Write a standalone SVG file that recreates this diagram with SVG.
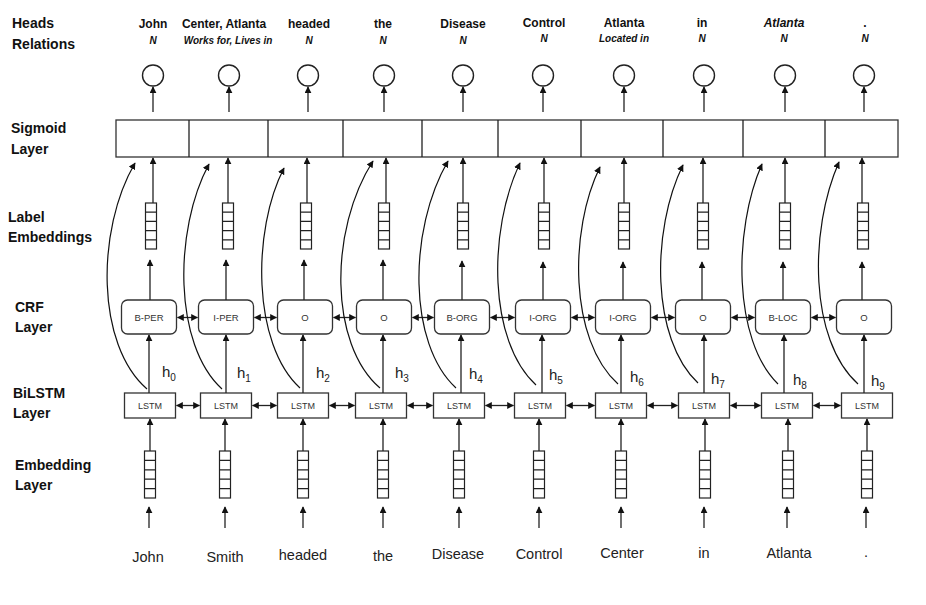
<svg xmlns="http://www.w3.org/2000/svg" width="926" height="605" viewBox="0 0 926 605">
<style>
text{font-family:"Liberation Sans",Arial,sans-serif;fill:#111}
.lab{font-size:14px;font-weight:bold}
.hd{font-size:12px;font-weight:bold;text-anchor:middle}
.rel{font-size:10px;font-weight:bold;font-style:italic;text-anchor:middle}
.wd{font-size:14.5px;text-anchor:middle;fill:#222}
.bx{font-size:9.5px;text-anchor:middle;fill:#333}
.ls{font-size:9px;text-anchor:middle;fill:#333}
.h{font-size:15px;fill:#222}
.h tspan{font-size:10px}
.box{fill:#fff;stroke:#333;stroke-width:1.3}
.vec{fill:#fff;stroke:#222;stroke-width:1.2}
.ln{fill:none;stroke:#222;stroke-width:1.3}
.ar{fill:none;stroke:#222;stroke-width:1.3;marker-end:url(#ah)}
.da{fill:none;stroke:#222;stroke-width:1.3;marker-end:url(#ah);marker-start:url(#ah)}
.cv{fill:none;stroke:#111;stroke-width:1.2;marker-end:url(#ah)}
</style>
<defs>
<marker id="ah" viewBox="0 0 10 10" refX="9" refY="5" markerWidth="7" markerHeight="7" markerUnits="userSpaceOnUse" orient="auto-start-reverse"><path d="M0,0 L10,5 L0,10 z" fill="#111"/></marker>
</defs>
<rect width="926" height="605" fill="#fff"/>

<g id="layer-labels">
<text class="lab" x="12" y="28">Heads</text>
<text class="lab" x="12" y="49">Relations</text>
<text class="lab" x="11" y="133">Sigmoid</text>
<text class="lab" x="11" y="154">Layer</text>
<text class="lab" x="8" y="222">Label</text>
<text class="lab" x="8" y="242">Embeddings</text>
<text class="lab" x="15" y="312">CRF</text>
<text class="lab" x="15" y="332">Layer</text>
<text class="lab" x="13" y="398">BiLSTM</text>
<text class="lab" x="13" y="418">Layer</text>
<text class="lab" x="15" y="470">Embedding</text>
<text class="lab" x="15" y="490">Layer</text>
</g>

<g id="heads">
<text class="hd" x="153" y="28">John</text><text class="rel" x="153" y="44">N</text>
<text class="hd" x="224" y="28">Center, Atlanta</text><text class="rel" x="228" y="44">Works for, Lives in</text>
<text class="hd" x="309" y="28">headed</text><text class="rel" x="309" y="44">N</text>
<text class="hd" x="383" y="28">the</text><text class="rel" x="383" y="44">N</text>
<text class="hd" x="463" y="28">Disease</text><text class="rel" x="463" y="44">N</text>
<text class="hd" x="544" y="27">Control</text><text class="rel" x="544" y="42">N</text>
<text class="hd" x="624" y="27">Atlanta</text><text class="rel" x="624" y="42">Located in</text>
<text class="hd" x="702" y="27">in</text><text class="rel" x="702" y="42">N</text>
<text class="hd" x="784" y="27" font-style="italic">Atlanta</text><text class="rel" x="784" y="42">N</text>
<text class="hd" x="865" y="27">.</text><text class="rel" x="865" y="42">N</text>
</g>

<g id="outputs" fill="#fff" stroke="#222" stroke-width="1.4">
<circle cx="153" cy="75.5" r="10.5"/>
<circle cx="229" cy="75.5" r="10.5"/>
<circle cx="308" cy="75.5" r="10.5"/>
<circle cx="384" cy="75.5" r="10.5"/>
<circle cx="463" cy="75.5" r="10.5"/>
<circle cx="543" cy="75.5" r="10.5"/>
<circle cx="624" cy="75.5" r="10.5"/>
<circle cx="704" cy="75.5" r="10.5"/>
<circle cx="785" cy="75.5" r="10.5"/>
<circle cx="864" cy="75.5" r="10.5"/>
</g>

<g id="sigmoid-layer">
<rect class="box" x="116" y="120" width="782" height="37"/>
<path class="ln" d="M189,120V157M268,120V157M343,120V157M422,120V157M498,120V157M581,120V157M663,120V157M743,120V157M825,120V157"/>
</g>

<g id="label-embeddings">
<g id="le1"><rect class="vec" x="145.5" y="203" width="11" height="46"/><path class="ln" d="M145.5,212.2h11M145.5,221.4h11M145.5,230.6h11M145.5,239.8h11"/></g>
<g id="le2"><rect class="vec" x="222.5" y="203" width="11" height="46"/><path class="ln" d="M222.5,212.2h11M222.5,221.4h11M222.5,230.6h11M222.5,239.8h11"/></g>
<g id="le3"><rect class="vec" x="300.5" y="203" width="11" height="46"/><path class="ln" d="M300.5,212.2h11M300.5,221.4h11M300.5,230.6h11M300.5,239.8h11"/></g>
<g id="le4"><rect class="vec" x="378.5" y="203" width="11" height="46"/><path class="ln" d="M378.5,212.2h11M378.5,221.4h11M378.5,230.6h11M378.5,239.8h11"/></g>
<g id="le5"><rect class="vec" x="457.5" y="203" width="11" height="46"/><path class="ln" d="M457.5,212.2h11M457.5,221.4h11M457.5,230.6h11M457.5,239.8h11"/></g>
<g id="le6"><rect class="vec" x="538.5" y="203" width="11" height="46"/><path class="ln" d="M538.5,212.2h11M538.5,221.4h11M538.5,230.6h11M538.5,239.8h11"/></g>
<g id="le7"><rect class="vec" x="618.5" y="203" width="11" height="46"/><path class="ln" d="M618.5,212.2h11M618.5,221.4h11M618.5,230.6h11M618.5,239.8h11"/></g>
<g id="le8"><rect class="vec" x="697.5" y="203" width="11" height="46"/><path class="ln" d="M697.5,212.2h11M697.5,221.4h11M697.5,230.6h11M697.5,239.8h11"/></g>
<g id="le9"><rect class="vec" x="779.5" y="203" width="11" height="46"/><path class="ln" d="M779.5,212.2h11M779.5,221.4h11M779.5,230.6h11M779.5,239.8h11"/></g>
<g id="le10"><rect class="vec" x="857.5" y="203" width="11" height="46"/><path class="ln" d="M857.5,212.2h11M857.5,221.4h11M857.5,230.6h11M857.5,239.8h11"/></g>
</g>

<g id="crf-layer">
<g id="crf1"><rect class="box" x="121.5" y="300" width="55" height="34" rx="6"/><text class="bx" x="149" y="321">B-PER</text></g>
<g id="crf2"><rect class="box" x="198.5" y="300" width="55" height="34" rx="6"/><text class="bx" x="226" y="321">I-PER</text></g>
<g id="crf3"><rect class="box" x="277.5" y="300" width="55" height="34" rx="6"/><text class="bx" x="305" y="321">O</text></g>
<g id="crf4"><rect class="box" x="356.5" y="300" width="55" height="34" rx="6"/><text class="bx" x="384" y="321">O</text></g>
<g id="crf5"><rect class="box" x="434.5" y="300" width="55" height="34" rx="6"/><text class="bx" x="462" y="321">B-ORG</text></g>
<g id="crf6"><rect class="box" x="515.5" y="300" width="55" height="34" rx="6"/><text class="bx" x="543" y="321">I-ORG</text></g>
<g id="crf7"><rect class="box" x="595.5" y="300" width="55" height="34" rx="6"/><text class="bx" x="623" y="321">I-ORG</text></g>
<g id="crf8"><rect class="box" x="675.5" y="300" width="55" height="34" rx="6"/><text class="bx" x="703" y="321">O</text></g>
<g id="crf9"><rect class="box" x="755.5" y="300" width="55" height="34" rx="6"/><text class="bx" x="783" y="321">B-LOC</text></g>
<g id="crf10"><rect class="box" x="836.5" y="300" width="55" height="34" rx="6"/><text class="bx" x="864" y="321">O</text></g>
</g>

<g id="bilstm-layer">
<g id="lstm1"><rect class="box" x="124.5" y="393" width="51" height="25"/><text class="ls" x="150" y="409">LSTM</text></g>
<g id="lstm2"><rect class="box" x="200.5" y="393" width="51" height="25"/><text class="ls" x="226" y="409">LSTM</text></g>
<g id="lstm3"><rect class="box" x="277.5" y="393" width="51" height="25"/><text class="ls" x="303" y="409">LSTM</text></g>
<g id="lstm4"><rect class="box" x="355.5" y="393" width="51" height="25"/><text class="ls" x="381" y="409">LSTM</text></g>
<g id="lstm5"><rect class="box" x="433.5" y="393" width="51" height="25"/><text class="ls" x="459" y="409">LSTM</text></g>
<g id="lstm6"><rect class="box" x="514.5" y="393" width="51" height="25"/><text class="ls" x="540" y="409">LSTM</text></g>
<g id="lstm7"><rect class="box" x="595.5" y="393" width="51" height="25"/><text class="ls" x="621" y="409">LSTM</text></g>
<g id="lstm8"><rect class="box" x="678.5" y="393" width="51" height="25"/><text class="ls" x="704" y="409">LSTM</text></g>
<g id="lstm9"><rect class="box" x="761.5" y="393" width="51" height="25"/><text class="ls" x="787" y="409">LSTM</text></g>
<g id="lstm10"><rect class="box" x="841.5" y="393" width="51" height="25"/><text class="ls" x="867" y="409">LSTM</text></g>
</g>

<g id="hidden-labels">
<text class="h" x="162" y="377">h<tspan dy="4">0</tspan></text>
<text class="h" x="237" y="378">h<tspan dy="4">1</tspan></text>
<text class="h" x="316" y="378">h<tspan dy="4">2</tspan></text>
<text class="h" x="395" y="378">h<tspan dy="4">3</tspan></text>
<text class="h" x="469" y="379">h<tspan dy="4">4</tspan></text>
<text class="h" x="549" y="380">h<tspan dy="4">5</tspan></text>
<text class="h" x="630" y="382">h<tspan dy="4">6</tspan></text>
<text class="h" x="711" y="384">h<tspan dy="4">7</tspan></text>
<text class="h" x="793" y="385">h<tspan dy="4">8</tspan></text>
<text class="h" x="871" y="386">h<tspan dy="4">9</tspan></text>
</g>

<g id="word-embeddings">
<g id="we1"><rect class="vec" x="144.5" y="451" width="11" height="47"/><path class="ln" d="M144.5,460.4h11M144.5,469.8h11M144.5,479.2h11M144.5,488.6h11"/></g>
<g id="we2"><rect class="vec" x="219.5" y="451" width="11" height="47"/><path class="ln" d="M219.5,460.4h11M219.5,469.8h11M219.5,479.2h11M219.5,488.6h11"/></g>
<g id="we3"><rect class="vec" x="297.5" y="451" width="11" height="47"/><path class="ln" d="M297.5,460.4h11M297.5,469.8h11M297.5,479.2h11M297.5,488.6h11"/></g>
<g id="we4"><rect class="vec" x="377.5" y="451" width="11" height="47"/><path class="ln" d="M377.5,460.4h11M377.5,469.8h11M377.5,479.2h11M377.5,488.6h11"/></g>
<g id="we5"><rect class="vec" x="453.5" y="451" width="11" height="47"/><path class="ln" d="M453.5,460.4h11M453.5,469.8h11M453.5,479.2h11M453.5,488.6h11"/></g>
<g id="we6"><rect class="vec" x="533.5" y="451" width="11" height="47"/><path class="ln" d="M533.5,460.4h11M533.5,469.8h11M533.5,479.2h11M533.5,488.6h11"/></g>
<g id="we7"><rect class="vec" x="615.5" y="451" width="11" height="47"/><path class="ln" d="M615.5,460.4h11M615.5,469.8h11M615.5,479.2h11M615.5,488.6h11"/></g>
<g id="we8"><rect class="vec" x="699.5" y="451" width="11" height="47"/><path class="ln" d="M699.5,460.4h11M699.5,469.8h11M699.5,479.2h11M699.5,488.6h11"/></g>
<g id="we9"><rect class="vec" x="782.5" y="451" width="11" height="47"/><path class="ln" d="M782.5,460.4h11M782.5,469.8h11M782.5,479.2h11M782.5,488.6h11"/></g>
<g id="we10"><rect class="vec" x="861.5" y="451" width="11" height="47"/><path class="ln" d="M861.5,460.4h11M861.5,469.8h11M861.5,479.2h11M861.5,488.6h11"/></g>
</g>

<g id="words">
<text class="wd" x="148" y="562">John</text>
<text class="wd" x="225" y="562">Smith</text>
<text class="wd" x="303" y="560">headed</text>
<text class="wd" x="383" y="561">the</text>
<text class="wd" x="458" y="559">Disease</text>
<text class="wd" x="539" y="559">Control</text>
<text class="wd" x="622" y="558">Center</text>
<text class="wd" x="704" y="558">in</text>
<text class="wd" x="789" y="558">Atlanta</text>
<text class="wd" x="866" y="557">.</text>
</g>

<g id="connectors">
<path class="ar" d="M149,528V507"/><path class="ar" d="M225,528V507"/><path class="ar" d="M303,528V507"/><path class="ar" d="M383,528V507"/><path class="ar" d="M459,528V507"/><path class="ar" d="M539,528V507"/><path class="ar" d="M621,528V507"/><path class="ar" d="M704,528V507"/><path class="ar" d="M787,528V507"/><path class="ar" d="M866,528V507"/>

<path class="ar" d="M150,451V419"/><path class="ar" d="M225,451V419"/><path class="ar" d="M303,451V419"/><path class="ar" d="M383,451V419"/><path class="ar" d="M459,451V419"/><path class="ar" d="M539,451V419"/><path class="ar" d="M621,451V419"/><path class="ar" d="M705,451V419"/><path class="ar" d="M788,451V419"/><path class="ar" d="M867,451V419"/>

<path class="da" d="M176.5,405.5H199.5"/><path class="da" d="M252.5,405.5H276.5"/><path class="da" d="M329.5,405.5H354.5"/><path class="da" d="M407.5,405.5H432.5"/><path class="da" d="M485.5,405.5H513.5"/><path class="da" d="M566.5,405.5H594.5"/><path class="da" d="M647.5,405.5H677.5"/><path class="da" d="M730.5,405.5H760.5"/><path class="da" d="M813.5,405.5H840.5"/>

<path class="ar" d="M149,393V335"/><path class="ar" d="M226,393V335"/><path class="ar" d="M303,393V335"/><path class="ar" d="M383,393V335"/><path class="ar" d="M461,393V335"/><path class="ar" d="M542,393V335"/><path class="ar" d="M621,393V335"/><path class="ar" d="M704,393V335"/><path class="ar" d="M784,393V335"/><path class="ar" d="M864,393V335"/>

<path class="da" d="M177.5,317.5H197.5"/><path class="da" d="M254.5,317.5H276.5"/><path class="da" d="M333.5,317.5H355.5"/><path class="da" d="M412.5,317.5H433.5"/><path class="da" d="M490.5,317.5H514.5"/><path class="da" d="M571.5,317.5H594.5"/><path class="da" d="M651.5,317.5H674.5"/><path class="da" d="M731.5,317.5H754.5"/><path class="da" d="M811.5,317.5H835.5"/>

<path class="ar" d="M150,300V260"/><path class="ar" d="M226,300V260"/><path class="ar" d="M304,300V260"/><path class="ar" d="M383,300V260"/><path class="ar" d="M462,300V261"/><path class="ar" d="M543,300V262"/><path class="ar" d="M623,300V262"/><path class="ar" d="M702,300V262"/><path class="ar" d="M783,300V262"/><path class="ar" d="M862,300V262"/>

<path class="ar" d="M153,203V158"/><path class="ar" d="M228,203V158"/><path class="ar" d="M307,203V158"/><path class="ar" d="M386,203V158"/><path class="ar" d="M463,203V158"/><path class="ar" d="M544,203V158"/><path class="ar" d="M624,203V158"/><path class="ar" d="M703,203V158"/><path class="ar" d="M785,203V158"/><path class="ar" d="M862,203V158"/>

<path class="ar" d="M153,112V87"/><path class="ar" d="M229,112V87"/><path class="ar" d="M308,112V87"/><path class="ar" d="M384,112V87"/><path class="ar" d="M463,112V87"/><path class="ar" d="M543,112V87"/><path class="ar" d="M624,112V87"/><path class="ar" d="M704,112V87"/><path class="ar" d="M785,112V87"/><path class="ar" d="M864,112V87"/>

<path class="cv" d="M147,389C96,345 96,230 135,163"/>
<path class="cv" d="M222,389C173.5,345 173.5,230 209,164"/>
<path class="cv" d="M300,388C252,344 252,230 284,168"/>
<path class="cv" d="M380,388C329,344 329,230 373,161"/>
<path class="cv" d="M456,388C408,344 408,230 448,161"/>
<path class="cv" d="M536,385C488,341 488,230 520,163"/>
<path class="cv" d="M618,384C569,340 569,230 600,167"/>
<path class="cv" d="M698,383C651,339 651,230 683,165"/>
<path class="cv" d="M778,384C733,340 733,230 762,164"/>
<path class="cv" d="M858,384C809,340 809,230 839,162"/>
</g>
</svg>
